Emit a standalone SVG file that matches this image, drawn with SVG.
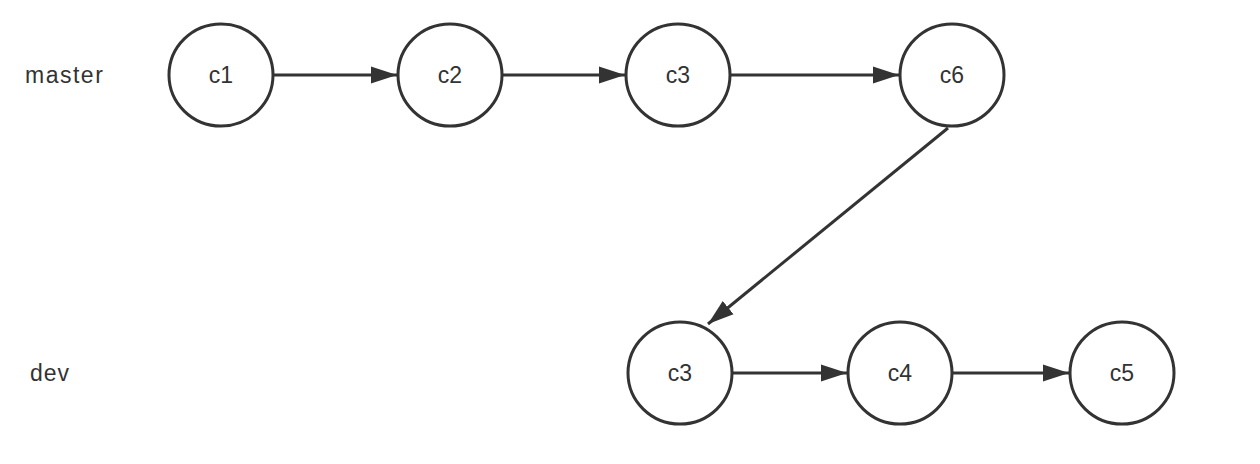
<svg xmlns="http://www.w3.org/2000/svg" width="1260" height="464" viewBox="0 0 1260 464">
<defs>
<style>
.n{fill:#fff;stroke:#333;stroke-width:3}
.t{font-family:"Liberation Sans",Arial,sans-serif;font-size:23px;fill:#333;text-anchor:middle;dominant-baseline:central}
.l{font-family:"Liberation Sans",Arial,sans-serif;font-size:23px;fill:#333;dominant-baseline:central}
.e{fill:none;stroke:#333;stroke-width:3;marker-end:url(#a)}
</style>
<marker id="a" markerUnits="userSpaceOnUse" markerWidth="28" markerHeight="18" refX="26" refY="9" orient="auto">
<path d="M0,0.5 L26,9 L0,17.5 Z" fill="#333"/>
</marker>
</defs>
<rect width="1260" height="464" fill="#fff"/>
<text class="l" x="25" y="75" letter-spacing="1.5">master</text>
<text class="l" x="30" y="373" letter-spacing="1">dev</text>
<g id="edges">
<line class="e" x1="274" y1="75" x2="397" y2="75"/>
<line class="e" x1="502" y1="75" x2="625" y2="75"/>
<line class="e" x1="730" y1="75" x2="899" y2="75"/>
<line class="e" x1="948" y1="128" x2="708" y2="324"/>
<line class="e" x1="733" y1="373" x2="847" y2="373"/>
<line class="e" x1="952" y1="373" x2="1069" y2="373"/>
</g>
<g id="c1"><ellipse class="n" cx="221" cy="75" rx="52" ry="51"/><text class="t" x="221" y="75">c1</text></g>
<g id="c2"><ellipse class="n" cx="450" cy="75" rx="52" ry="51"/><text class="t" x="450" y="75">c2</text></g>
<g id="c3m"><ellipse class="n" cx="678" cy="75" rx="52" ry="51"/><text class="t" x="678" y="75">c3</text></g>
<g id="c6"><ellipse class="n" cx="952" cy="75" rx="52" ry="51"/><text class="t" x="952" y="75">c6</text></g>
<g id="c3d"><ellipse class="n" cx="680" cy="373" rx="52" ry="51"/><text class="t" x="680" y="373">c3</text></g>
<g id="c4"><ellipse class="n" cx="900" cy="373" rx="52" ry="51"/><text class="t" x="900" y="373">c4</text></g>
<g id="c5"><ellipse class="n" cx="1122" cy="373" rx="52" ry="51"/><text class="t" x="1122" y="373">c5</text></g>
</svg>
